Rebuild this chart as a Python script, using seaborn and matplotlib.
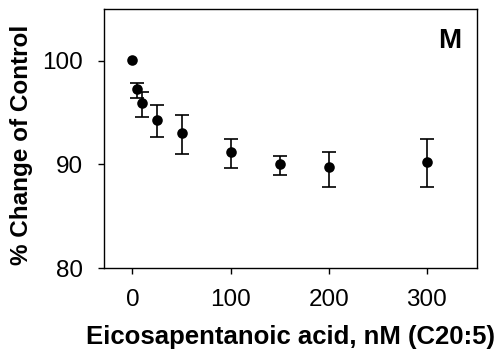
import matplotlib
matplotlib.use("Agg")
import matplotlib.pyplot as plt
import seaborn as sns
import pandas as pd
import numpy as np

conc = [0, 5, 10, 25, 50, 100, 150, 200, 300]
pct = [100.1, 97.3, 95.9, 94.3, 93.05, 91.2, 90.05, 89.75, 90.25]
err_low = [np.nan, 0.85, 1.35, 1.7, 2.0, 1.5, 1.05, 1.95, 2.45]
err_high = [np.nan, 0.55, 1.1, 1.4, 1.7, 1.25, 0.8, 1.45, 2.2]
xticks = [0, 100, 200, 300]
yticks = [80, 90, 100]

df = pd.DataFrame({"conc": conc, "pct": pct})

sns.set_theme(style="ticks")
plt.rcParams["font.family"] = ["Liberation Sans", "DejaVu Sans"]

fig = plt.figure(figsize=(4.98, 3.56), dpi=100)
ax = fig.add_axes([0.2088, 0.247, 0.749, 0.728])

ebx = [c for c, e in zip(conc, err_low) if not np.isnan(e)]
eby = [p for p, e in zip(pct, err_low) if not np.isnan(e)]
ebl = [e for e in err_low if not np.isnan(e)]
ebh = [e for e in err_high if not np.isnan(e)]
ax.errorbar(ebx, eby, yerr=[ebl, ebh], fmt="none", ecolor="black",
            elinewidth=1.2, capsize=4.7, capthick=1.2, zorder=2)
sns.scatterplot(data=df, x="conc", y="pct", ax=ax, color="black", s=58,
                edgecolor="black", linewidth=0, zorder=3)

ax.set_xlim(-29, 351)
ax.set_ylim(80, 105)
ax.set_xticks(xticks)
ax.set_yticks(yticks)
ax.tick_params(axis="both", labelsize=17.5, length=4, width=1, color="black",
               labelcolor="black", direction="out", pad=11)
for s in ax.spines.values():
    s.set_visible(True)
    s.set_color("black")
    s.set_linewidth(1)

ax.set_xlabel("Eicosapentanoic acid, nM (C20:5)", fontsize=18.5,
              fontweight="bold", color="black", labelpad=10)
ax.set_ylabel("% Change of Control", fontsize=17.5, fontweight="bold",
              color="black")
ax.yaxis.set_label_coords(-0.19, 0.475)
ax.text(0.957, 0.875, "M", transform=ax.transAxes, ha="right", va="center",
        fontsize=20, fontweight="bold", color="black")

fig.savefig("out.png", dpi=100)
